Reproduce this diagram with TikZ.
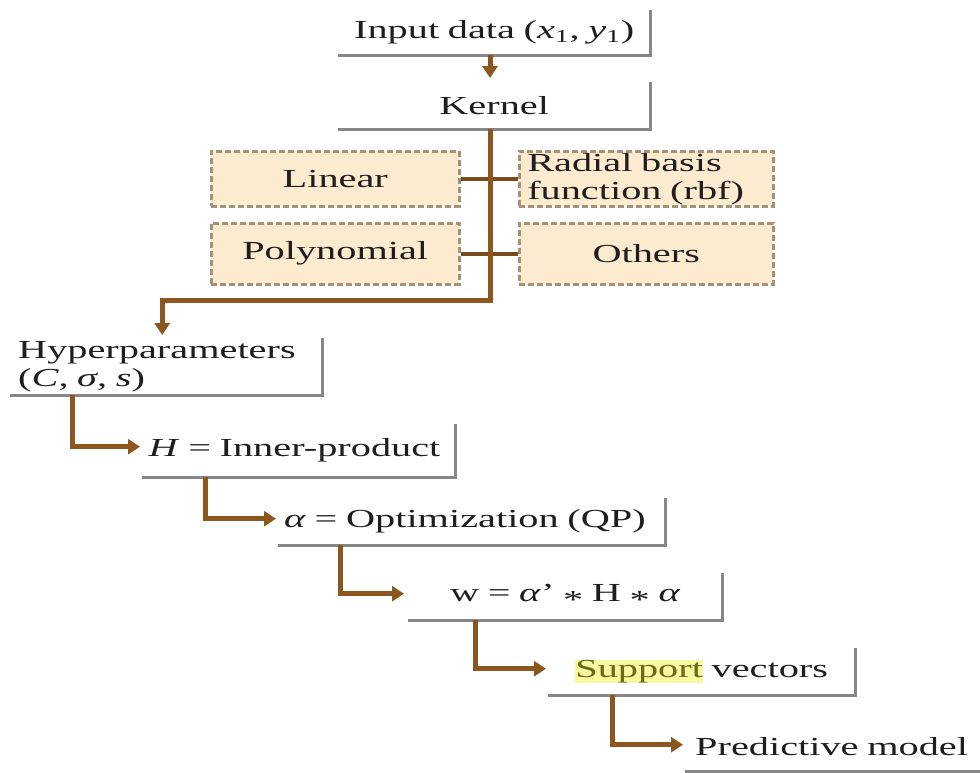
\documentclass[tikz,border=0pt]{standalone}
\usepackage{fontspec}
\setmainfont{Liberation Serif}[FakeStretch=1.55]
\usetikzlibrary{arrows.meta}
\definecolor{flowbrown}{RGB}{139,87,30}
\definecolor{linkbrown}{RGB}{120,75,25}
\definecolor{edgegray}{RGB}{135,135,135}
\definecolor{kfill}{RGB}{253,235,208}
\definecolor{kdash}{RGB}{165,145,118}
\definecolor{hlyellow}{RGB}{248,248,160}
\definecolor{hltext}{RGB}{105,105,25}
\definecolor{ink}{RGB}{30,30,30}
\newcommand{\midstar}{\raisebox{-0.28em}{*}}
\begin{document}
\begin{tikzpicture}[x=1pt,y=-1pt,
  font=\fontsize{26}{28}\selectfont, text=ink,
  step box/.style={rectangle, inner sep=0pt, anchor=north west},
  edge/.style={draw=edgegray, line width=3pt},
  kernel box/.style={rectangle, anchor=north west, fill=kfill, draw=kdash,
    line width=2.5pt, dash pattern=on 6pt off 3pt, inner sep=0pt},
  flow/.style={draw=flowbrown, line width=5pt, -{Triangle[length=12pt,width=15pt]}},
  link/.style={draw=linkbrown, line width=3.5pt}]
\useasboundingbox (0,0) rectangle (980,772);

% main chain of steps
\node[step box, minimum width=312, minimum height=45, text width=292, align=center]
  (in) at (338,10) {Input data (\textit{x}\textsubscript{1}, \textit{y}\textsubscript{1})};
\node[step box, minimum width=312, minimum height=47, text width=292, align=center]
  (ker) at (338,82) {Kernel};
\node[step box, minimum width=312, minimum height=57, text width=296, align=left]
  (hyp) at (10,338) {Hyperparameters\\(\textit{C}, \textit{σ}, \textit{s})};
\node[step box, minimum width=313, minimum height=53, text width=300, align=left]
  (inner) at (142,424) {\textit{H} = Inner-product};
\node[step box, minimum width=387, minimum height=47, text width=375, align=left]
  (opt) at (278,498) {\textit{α} = Optimization (QP)};
\node[step box, minimum width=314, minimum height=47, text width=300, align=center]
  (wts) at (408,573) {w = \textit{α}’ \midstar{} H \midstar{} \textit{α}};
\node[step box, minimum width=307, minimum height=47, text width=290, align=center]
  (sv) at (548,648) {\setlength\fboxsep{0pt}\colorbox{hlyellow}{\textcolor{hltext}{Support}} vectors};
\node[step box, minimum width=300, minimum height=49, text width=280, align=left]
  (pm) at (685,722) {Predictive model};

% kernel choices
\node[kernel box, minimum width=248, minimum height=55] (lin) at (210,150) {Linear};
\node[kernel box, minimum width=254, minimum height=55, text width=238, align=left]
  (rbf) at (518,150) {Radial basis\\function (rbf)};
\node[kernel box, minimum width=248, minimum height=61] (poly) at (210,222) {Polynomial};
\node[kernel box, minimum width=254, minimum height=61] (oth) at (518,222) {Others};

% right and bottom edges of the step boxes
\foreach \n in {in,ker,hyp,inner,opt,wts,sv}
  \draw[edge] (\n.north east) -- (\n.south east) -- (\n.south west);
\draw[edge] (pm.south west) -- (pm.south east);

% links between the kernel choices
\draw[link] (lin.east) -- (rbf.west);
\draw[link] (poly.east) -- (oth.west);

% flow arrows
\coordinate (split) at (490,300);
\draw[flow, shorten >=4pt] (in.south -| split) -- (ker.north -| split);
\draw[flow, shorten >=3pt] (ker.south -| split) -- (split) -| ([xshift=-4pt]hyp.north);
\draw[flow, shorten >=2pt] ([xshift=62pt]hyp.south west) |- ([yshift=4pt]inner.west);
\draw[flow, shorten >=2pt] ([xshift=63pt]inner.south west) |- ([yshift=3pt]opt.west);
\draw[flow, shorten >=4pt] ([xshift=62pt]opt.south west) |- ([yshift=3pt]wts.west);
\draw[flow, shorten >=2pt] ([xshift=67pt]wts.south west) |- ([yshift=3pt]sv.west);
\draw[flow, shorten >=2pt] ([xshift=64pt]sv.south west) |- ([yshift=2pt]pm.west);
\end{tikzpicture}
\end{document}
